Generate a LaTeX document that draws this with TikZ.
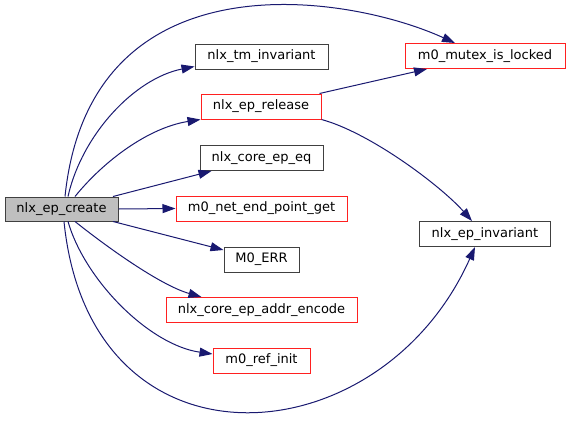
\documentclass[tikz,border=0pt]{standalone}
\usepackage{fontspec}
\setmainfont{DejaVu Sans}
\usepackage{tikz}
\usetikzlibrary{arrows.meta}

\definecolor{edgeblue}{HTML}{191970}
\definecolor{boxgray}{HTML}{404040}
\definecolor{boxred}{HTML}{FF2020}
\definecolor{fillgray}{HTML}{BFBFBF}

\tikzset{
  fn/.style={draw=boxgray, line width=1pt, rectangle, minimum height=25pt, inner sep=0pt, font=\fontsize{13}{15}\selectfont},
  fnred/.style={fn, draw=boxred},
  call/.style={draw=edgeblue, line width=1pt, -{Triangle[length=13pt,width=9pt]}}
}

\begin{document}
\begin{tikzpicture}[x=1pt, y=-1pt]
			\useasboundingbox (0,0) rectangle (571,421);
			% caller
			\node[fn, fill=fillgray, minimum width=113pt, minimum height=24pt] (create) at (61.5,209) {nlx\_ep\_create};
			% first level callees
			\node[fn, minimum width=133pt] (tminv) at (261.5,56.5) {nlx\_tm\_invariant};
			\node[fnred, minimum width=120pt] (release) at (261,106.5) {nlx\_ep\_release};
			\node[fn, minimum width=123pt] (coreeq) at (261.5,158) {nlx\_core\_ep\_eq};
			\node[fnred, minimum width=171pt] (netget) at (261.5,208.5) {m0\_net\_end\_point\_get};
			\node[fn, minimum width=75pt] (err) at (261.5,259.5) {M0\_ERR};
			\node[fnred, minimum width=191pt] (encode) at (261.5,310) {nlx\_core\_ep\_addr\_encode};
			\node[fnred, minimum width=97pt] (refinit) at (261.5,360.5) {m0\_ref\_init};
			% second level
			\node[fnred, minimum width=160pt] (mutex) at (485,56) {m0\_mutex\_is\_locked};
			\node[fn, minimum width=131pt] (epinv) at (485,234) {nlx\_ep\_invariant};

			\draw[call] ([xshift=3.5pt]create.north) .. controls +(25,-242) and +(-110,-50) .. ([xshift=-30pt]mutex.north);
			\draw[call] ([xshift=6.5pt]create.north) .. controls +(14,-62) and +(-60,12) .. ([yshift=-10pt]tminv.west);
			\draw[call] ([xshift=13.5pt]create.north) .. controls +(30,-37) and +(-51,8) .. ([yshift=-13pt]release.west);
			\draw[call] ([xshift=51.5pt]create.north) -- ([xshift=-50pt]coreeq.south);
			\draw[call] (create.east) -- (netget.west);
			\draw[call] ([xshift=51.5pt]create.south) -- ([yshift=9.5pt]err.west);
			\draw[call] ([xshift=13.5pt]create.south) .. controls +(30,24) and +(-42,-12) .. ([xshift=-60pt]encode.north);
			\draw[call] ([xshift=6.5pt]create.south) .. controls +(17,59) and +(-63,-9) .. ([yshift=6.5pt]refinit.west);
			\draw[call] ([xshift=2.5pt]create.south) .. controls +(26,259) and +(-95,213) .. ([xshift=-10pt]epinv.south);
			\draw[call] ([xshift=-2pt]release.north east) -- ([xshift=-58pt]mutex.south);
			\draw[call] (release.south east) .. controls +(48,13) and +(-32,-36) .. ([xshift=-13pt]epinv.north);
		\end{tikzpicture}
\end{document}
